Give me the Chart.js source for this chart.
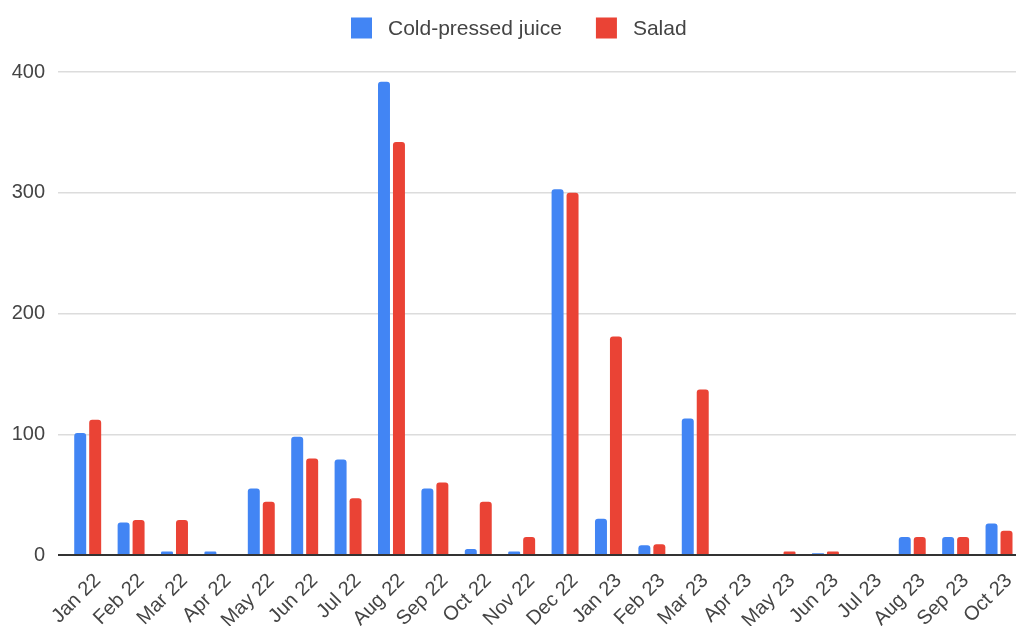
<!DOCTYPE html>
<html>
<head>
<meta charset="utf-8">
<script src="https://cdn.jsdelivr.net/npm/chart.js@4.4.1/dist/chart.umd.min.js"></script>
<style>
  html, body { margin: 0; padding: 0; background: #fff; overflow: hidden; }
  #wrap { position: relative; width: 1030px; height: 626px; }
</style>
</head>
<body>
<div id="wrap"><canvas id="chart"></canvas></div>
<script>
// Monthly sales by product
const months = [
  'Jan 22', 'Feb 22', 'Mar 22', 'Apr 22', 'May 22', 'Jun 22', 'Jul 22', 'Aug 22',
  'Sep 22', 'Oct 22', 'Nov 22', 'Dec 22', 'Jan 23', 'Feb 23', 'Mar 23', 'Apr 23',
  'May 23', 'Jun 23', 'Jul 23', 'Aug 23', 'Sep 23', 'Oct 23'
];
const coldPressedJuice = [101, 27, 3, 3, 55, 98, 79, 392, 55, 5, 3, 303, 30, 8, 113, 0, 0, 1.5, 0, 15, 15, 26];
const salad = [112, 29, 29, 0, 44, 80, 47, 342, 60, 44, 15, 300, 181, 9, 137, 0, 3, 3, 0, 15, 15, 20];
const yTicks = [0, 100, 200, 300, 400];

const FONT = '"Liberation Sans", Arial, sans-serif';
const TEXT = '#444444';
const GRID = '#dcdcdc';
const AXIS = '#333333';

// Legend row drawn on the canvas: square swatch, wider gap before the label
const legendRow = {
  id: 'legendRow',
  afterDraw(chart) {
    const ctx = chart.ctx;
    const box = 21, gap = 16, between = 34, y = 28;
    ctx.save();
    ctx.font = '21px ' + FONT;
    ctx.textBaseline = 'middle';
    ctx.textAlign = 'left';
    const items = chart.data.datasets.map(ds => ({
      text: ds.label, color: ds.backgroundColor, w: ctx.measureText(ds.label).width
    }));
    const total = items.reduce((s, it) => s + box + gap + it.w, 0) + between * (items.length - 1);
    let x = Math.round(chart.width / 2 - total / 2) + 4;
    items.forEach(it => {
      ctx.fillStyle = it.color;
      ctx.fillRect(x, y - box / 2, box, box);
      ctx.fillStyle = TEXT;
      ctx.fillText(it.text, x + box + gap, y + 1);
      x += box + gap + it.w + between;
    });
    ctx.restore();
  }
};

new Chart(document.getElementById('chart'), {
  type: 'bar',
  data: {
    labels: months,
    datasets: [
      {
        label: 'Cold-pressed juice',
        data: coldPressedJuice,
        backgroundColor: '#4285F4',
        borderRadius: 3,
        borderSkipped: 'start',
        barPercentage: 0.8,
        categoryPercentage: 0.69
      },
      {
        label: 'Salad',
        data: salad,
        backgroundColor: '#EA4335',
        borderRadius: 3,
        borderSkipped: 'start',
        barPercentage: 0.8,
        categoryPercentage: 0.69
      }
    ]
  },
  plugins: [legendRow],
  options: {
    responsive: true,
    maintainAspectRatio: false,
    animation: false,
    layout: { padding: { top: 72, left: 0, right: 0, bottom: 0 } },
    plugins: {
      legend: { display: false },
      tooltip: { enabled: false }
    },
    scales: {
      x: {
        grid: { display: false, drawTicks: false },
        border: { display: false },
        ticks: {
          autoSkip: false,
          minRotation: 45,
          maxRotation: 45,
          labelOffset: 10,
          padding: 14,
          color: TEXT,
          font: { family: FONT, size: 20 }
        },
        afterFit(scale) { scale.height = 71; }
      },
      y: {
        min: 0,
        max: 400,
        border: { display: false },
        grid: {
          drawTicks: true,
          tickLength: 8,
          color: (c) => (c.tick && c.tick.value === 0 ? AXIS : GRID),
          tickColor: (c) => (c.tick && c.tick.value === 0 ? AXIS : GRID),
          lineWidth: (c) => (c.tick && c.tick.value === 0 ? 2 : 1.5)
        },
        afterBuildTicks(scale) { scale.ticks = yTicks.map(v => ({ value: v })); },
        ticks: {
          padding: 13,
          color: TEXT,
          font: { family: FONT, size: 20 }
        },
        afterFit(scale) { scale.width = 66; }
      }
    }
  }
});
</script>
</body>
</html>
